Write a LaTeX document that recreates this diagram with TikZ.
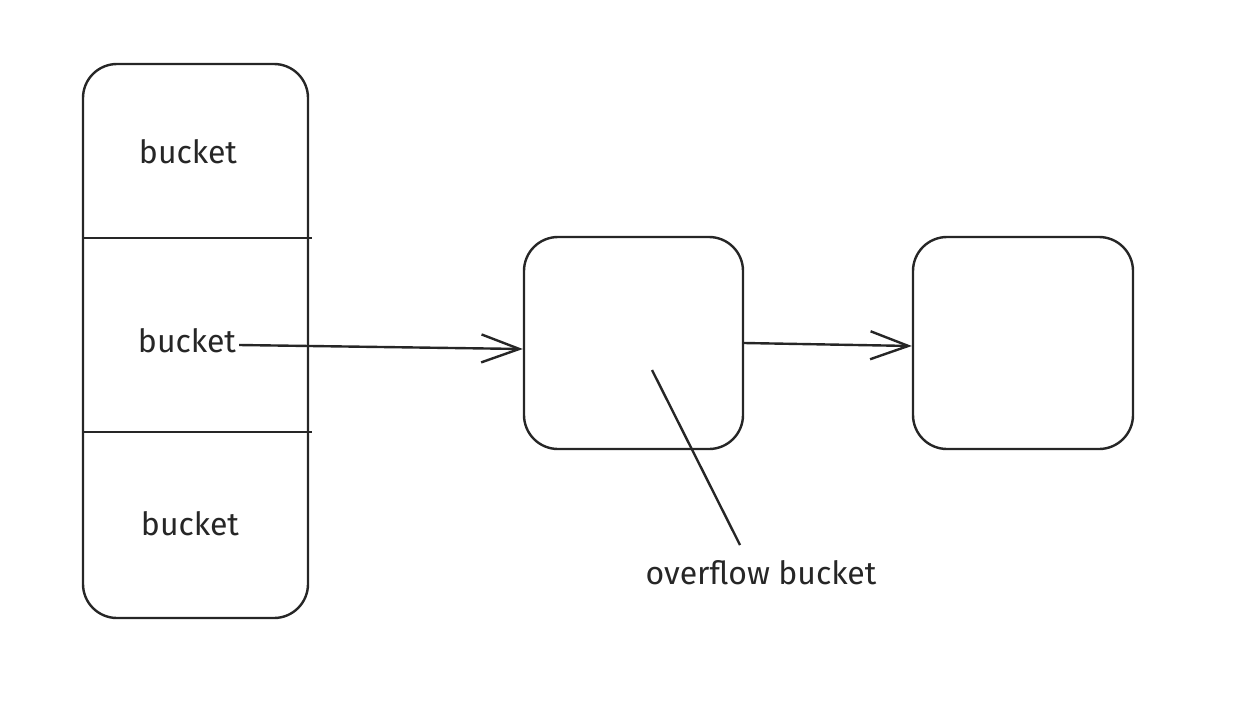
\documentclass[tikz,border=0pt]{standalone}
\usepackage{fontspec}
\setmainfont{Fira Sans}
\usetikzlibrary{arrows.meta}

\tikzset{
    sketch/.style={draw=black!85, line width=2.4pt},
    bucketbox/.style={sketch, rectangle, rounded corners=34pt, inner sep=0pt},
    bucketlabel/.style={font=\fontsize{32}{36}\selectfont, text=black!85, inner sep=0pt},
    barb/.style={sketch, -{Straight Barb[length=38pt, width=28pt, line width=2.4pt]}}
}

\begin{document}
\begin{tikzpicture}[x=1pt, y=-1pt]
    \useasboundingbox (0,0) rectangle (1238,712);

    % Draw the bucket array
    \node[bucketbox, minimum width=225pt, minimum height=554pt] (table) at (195.5,341) {};
    \draw[sketch] (82,238) -- (312,238);
    \draw[sketch] (82,432) -- (312,432);

    % Label buckets
    \node[bucketlabel] (b1) at (188,152) {bucket};
    \node[bucketlabel] (b2) at (187,341) {bucket};
    \node[bucketlabel] (b3) at (190,524) {bucket};

    % Draw overflow buckets
    \node[bucketbox, minimum width=219pt, minimum height=212pt] (ob1) at (633.5,343) {};
    \node[bucketbox, minimum width=220pt, minimum height=212pt] (ob2) at (1023,343) {};

    % Draw chain arrows
    \draw[barb] ([xshift=3pt, yshift=-4pt]b2.east) -- ([yshift=-6pt]ob1.west);
    \draw[barb] (ob1.east) -- ([yshift=-3pt]ob2.west);

    % Label overflow bucket
    \node[bucketlabel] (ovf) at (761,573) {overflow bucket};
    \coordinate (ptr) at (652,370);
    \coordinate (ptrend) at (740,545);
    \draw[sketch] (ptr) -- (ptrend);
\end{tikzpicture}
\end{document}
